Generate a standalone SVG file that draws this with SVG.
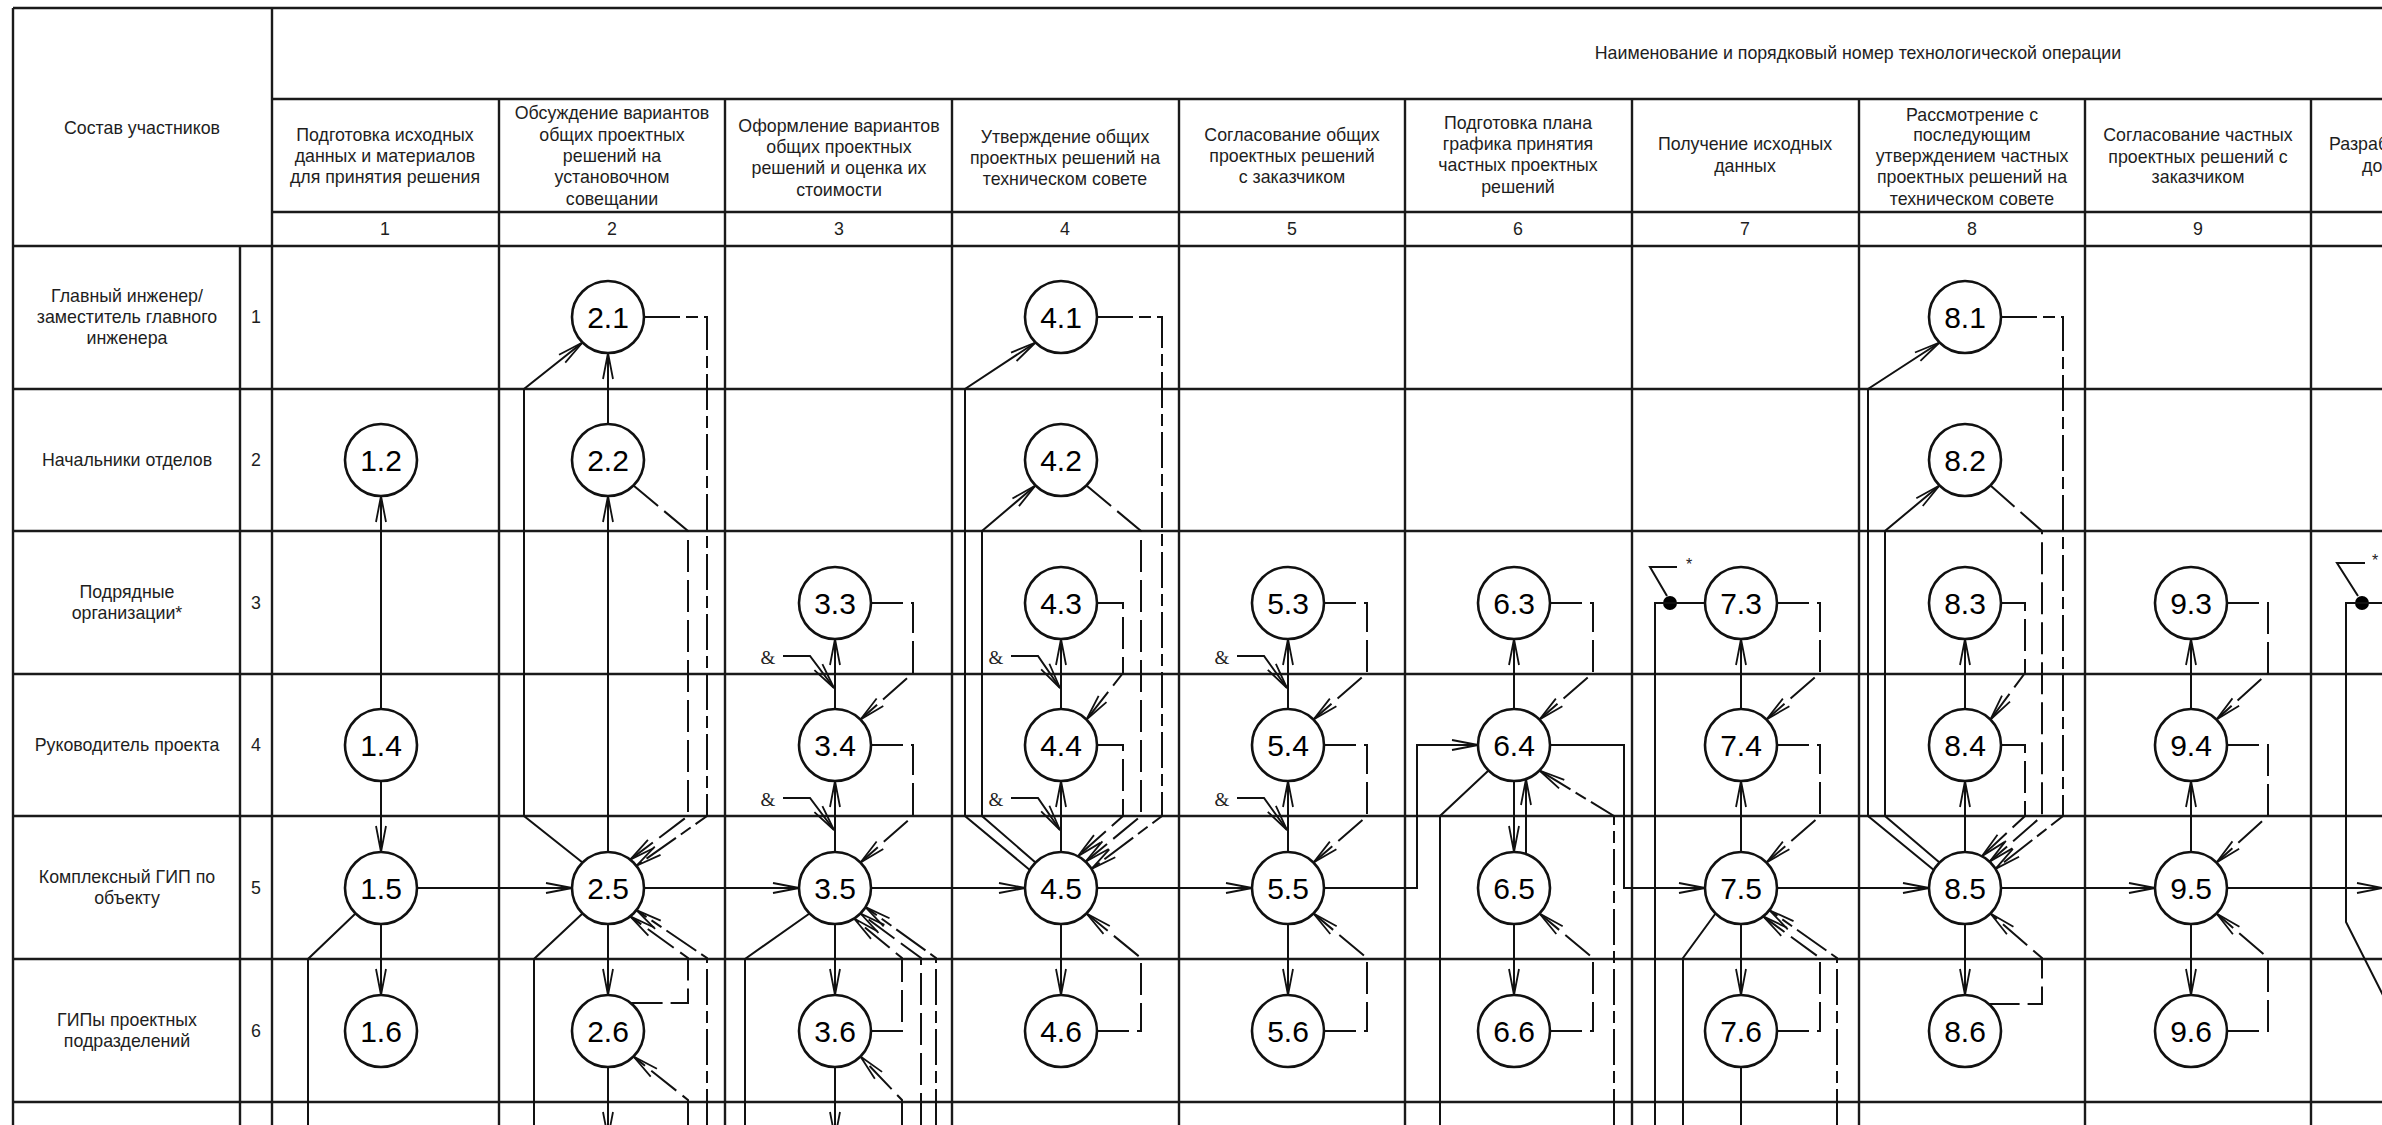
<svg xmlns="http://www.w3.org/2000/svg" width="2382" height="1125" viewBox="0 0 2382 1125">
<style>
.g{stroke:#1a1a1a;stroke-width:2.4;fill:none}
.c{fill:#fff;stroke:#111;stroke-width:2.6}
.l{fill:none;stroke:#111;stroke-width:2}
.d{fill:none;stroke:#111;stroke-width:2;stroke-dasharray:32 8}
.dd{fill:none;stroke:#111;stroke-width:2;stroke-dasharray:36 6 12 6}
.t{font-family:"Liberation Sans",Arial,sans-serif;font-size:17.8px;fill:#1e1e1e;text-anchor:middle}
.n{font-family:"Liberation Sans",Arial,sans-serif;font-size:30px;fill:#000;text-anchor:middle}
.amp{font-family:"Liberation Serif","Times New Roman",serif;font-size:19px;fill:#222;text-anchor:middle}
.ast{font-family:"Liberation Sans",Arial,sans-serif;font-size:16px;fill:#222;text-anchor:middle}
</style>
<defs>
<marker id="ar" markerUnits="userSpaceOnUse" markerWidth="30" markerHeight="14" viewBox="-28 -7 30 14" refX="0" refY="0" orient="auto" overflow="visible">
<path d="M-26,-5 L0,0 L-26,5" fill="none" stroke="#111" stroke-width="1.8" stroke-dasharray="none"/>
</marker>
</defs>
<rect width="2382" height="1125" fill="#fff"/>

<g id="grid">
<path class="g" d="M13,8 H2382 M272,99 H2382 M272,212 H2382 M13,246 H2382 M13,389 H2382 M13,531 H2382 M13,674 H2382 M13,816 H2382 M13,959 H2382 M13,1102 H2382"/>
<path class="g" d="M13,8 V1125 M240,246 V1125 M272,8 V1125 M499,99 V1125 M725,99 V1125 M952,99 V1125 M1179,99 V1125 M1405,99 V1125 M1632,99 V1125 M1859,99 V1125 M2085,99 V1125 M2311,99 V1125"/>
</g>

<g id="header">
<text class="t" x="1858" y="59">Наименование и порядковый номер технологической операции</text>
<text class="t" x="142" y="134">Состав участников</text>
<text class="t" x="385"><tspan x="385" y="141">Подготовка исходных</tspan><tspan x="385" y="162">данных и материалов</tspan><tspan x="385" y="183">для принятия решения</tspan></text>
<text class="t" x="612"><tspan x="612" y="119">Обсуждение вариантов</tspan><tspan x="612" y="141">общих проектных</tspan><tspan x="612" y="162">решений на</tspan><tspan x="612" y="183">установочном</tspan><tspan x="612" y="205">совещании</tspan></text>
<text class="t" x="839"><tspan x="839" y="132">Оформление вариантов</tspan><tspan x="839" y="153">общих проектных</tspan><tspan x="839" y="174">решений и оценка их</tspan><tspan x="839" y="196">стоимости</tspan></text>
<text class="t" x="1065"><tspan x="1065" y="143">Утверждение общих</tspan><tspan x="1065" y="164">проектных решений на</tspan><tspan x="1065" y="185">техническом совете</tspan></text>
<text class="t" x="1292"><tspan x="1292" y="141">Согласование общих</tspan><tspan x="1292" y="162">проектных решений</tspan><tspan x="1292" y="183">с заказчиком</tspan></text>
<text class="t" x="1518"><tspan x="1518" y="129">Подготовка плана</tspan><tspan x="1518" y="150">графика принятия</tspan><tspan x="1518" y="171">частных проектных</tspan><tspan x="1518" y="193">решений</tspan></text>
<text class="t" x="1745"><tspan x="1745" y="150">Получение исходных</tspan><tspan x="1745" y="172">данных</tspan></text>
<text class="t" x="1972"><tspan x="1972" y="121">Рассмотрение с</tspan><tspan x="1972" y="141">последующим</tspan><tspan x="1972" y="162">утверждением частных</tspan><tspan x="1972" y="183">проектных решений на</tspan><tspan x="1972" y="205">техническом совете</tspan></text>
<text class="t" x="2198"><tspan x="2198" y="141">Согласование частных</tspan><tspan x="2198" y="163">проектных решений с</tspan><tspan x="2198" y="183">заказчиком</tspan></text>
<text class="t" style="text-anchor:start"><tspan x="2329" y="150">Разраб</tspan><tspan x="2362" y="172">до</tspan></text>
<text class="t" x="385" y="235">1</text>
<text class="t" x="612" y="235">2</text>
<text class="t" x="839" y="235">3</text>
<text class="t" x="1065" y="235">4</text>
<text class="t" x="1292" y="235">5</text>
<text class="t" x="1518" y="235">6</text>
<text class="t" x="1745" y="235">7</text>
<text class="t" x="1972" y="235">8</text>
<text class="t" x="2198" y="235">9</text>
</g>

<g id="rows">
<text class="t"><tspan x="127" y="302">Главный инженер/</tspan><tspan x="127" y="323">заместитель главного</tspan><tspan x="127" y="344">инженера</tspan></text>
<text class="t" x="127" y="466">Начальники отделов</text>
<text class="t"><tspan x="127" y="598">Подрядные</tspan><tspan x="127" y="619">организации*</tspan></text>
<text class="t" x="127" y="751">Руководитель проекта</text>
<text class="t"><tspan x="127" y="883">Комплексный ГИП по</tspan><tspan x="127" y="904">объекту</tspan></text>
<text class="t"><tspan x="127" y="1026">ГИПы проектных</tspan><tspan x="127" y="1047">подразделений</tspan></text>
<text class="t" x="256" y="323">1</text>
<text class="t" x="256" y="466">2</text>
<text class="t" x="256" y="609">3</text>
<text class="t" x="256" y="751">4</text>
<text class="t" x="256" y="894">5</text>
<text class="t" x="256" y="1037">6</text>
</g>

<g id="connectors">
<!-- col 1 -->
<path class="l" marker-end="url(#ar)" d="M381,709 V496"/>
<path class="l" marker-end="url(#ar)" d="M381,781 V852"/>
<path class="l" marker-end="url(#ar)" d="M381,924 V995"/>
<path class="l" marker-end="url(#ar)" d="M417,888 H572"/>
<path class="l" d="M355.5,913.5 L308,959 V1125"/>
<!-- col 2 -->
<path class="l" marker-end="url(#ar)" d="M608,424 V353"/>
<path class="l" marker-end="url(#ar)" d="M608,852 V496"/>
<path class="l" marker-end="url(#ar)" d="M608,924 V995"/>
<path class="l" marker-end="url(#ar)" d="M608,1067 V1138"/>
<path class="l" marker-end="url(#ar)" d="M582.5,862.5 L524,816 V389 L582.5,342.5"/>
<path class="l" d="M582.5,913.5 L534,959 V1125"/>
<path class="l" marker-end="url(#ar)" d="M644,888 H799"/>
<path class="d" marker-end="url(#ar)" d="M633.5,485.5 L688,531 V816 L630.2,859.6"/>
<path class="dd" marker-end="url(#ar)" d="M644,317 H707 V816 L636.4,865.8"/>
<path class="d" marker-end="url(#ar)" d="M630.6,1003 H688 V958 L630.2,916.4"/>
<path class="dd" marker-end="url(#ar)" d="M707,1125 V958 L636.4,910.2"/>
<path class="d" marker-end="url(#ar)" d="M688,1125 V1100 L633.5,1056.5"/>
<!-- col 3 -->
<path class="l" marker-end="url(#ar)" d="M835,709 V639"/>
<path class="l" marker-end="url(#ar)" d="M835,852 V781"/>
<path class="l" marker-end="url(#ar)" d="M835,924 V995"/>
<path class="l" marker-end="url(#ar)" d="M835,1067 V1138"/>
<path class="l" marker-end="url(#ar)" d="M871,888 H1025"/>
<path class="l" d="M809.5,913.5 L745,959 V1125"/>
<path class="d" marker-end="url(#ar)" d="M871,603 H913 V673 L860.5,719.5"/>
<path class="d" marker-end="url(#ar)" d="M871,745 H913 V816 L860.5,862.5"/>
<path class="d" marker-end="url(#ar)" d="M871,1031 H902 V958 L854.1,918.5"/>
<path class="d" marker-end="url(#ar)" d="M921,1125 V958 L860.5,913.5"/>
<path class="dd" marker-end="url(#ar)" d="M936,1125 V958 L865.5,907.1"/>
<path class="d" marker-end="url(#ar)" d="M902,1125 V1100 L860.5,1056.5"/>
<path class="l" marker-end="url(#ar)" d="M783,656 H810 L834,688"/>
<path class="l" marker-end="url(#ar)" d="M783,798 H810 L834,830"/>
<!-- col 4 -->
<path class="l" marker-end="url(#ar)" d="M1061,709 V639"/>
<path class="l" marker-end="url(#ar)" d="M1061,852 V781"/>
<path class="l" marker-end="url(#ar)" d="M1061,924 V995"/>
<path class="l" marker-end="url(#ar)" d="M1097,888 H1252"/>
<path class="l" marker-end="url(#ar)" d="M1029.8,870 L965,816 V389 L1035.5,342.5"/>
<path class="l" marker-end="url(#ar)" d="M1035.5,862.5 L982,816 V531 L1035.5,485.5"/>
<path class="dd" marker-end="url(#ar)" d="M1097,317 H1162 V816 L1091.5,868.9"/>
<path class="d" marker-end="url(#ar)" d="M1086.5,485.5 L1141,531 V816 L1085.5,861.7"/>
<path class="d" marker-end="url(#ar)" d="M1097,745 H1123 V816 L1077.9,856.2"/>
<path class="d" marker-end="url(#ar)" d="M1097,603 H1123 V673 L1086.5,719.5"/>
<path class="d" marker-end="url(#ar)" d="M1097,1031 H1141 V958 L1086.5,913.5"/>
<path class="l" marker-end="url(#ar)" d="M1011,656 H1038 L1060,688"/>
<path class="l" marker-end="url(#ar)" d="M1011,798 H1038 L1060,830"/>
<!-- col 5 -->
<path class="l" marker-end="url(#ar)" d="M1288,709 V639"/>
<path class="l" marker-end="url(#ar)" d="M1288,852 V781"/>
<path class="l" marker-end="url(#ar)" d="M1288,924 V995"/>
<path class="l" marker-end="url(#ar)" d="M1324,888 H1417 V745 H1478"/>
<path class="d" marker-end="url(#ar)" d="M1324,603 H1367 V673 L1313.5,719.5"/>
<path class="d" marker-end="url(#ar)" d="M1324,745 H1367 V816 L1313.5,862.5"/>
<path class="d" marker-end="url(#ar)" d="M1324,1031 H1367 V958 L1313.5,913.5"/>
<path class="l" marker-end="url(#ar)" d="M1237,656 H1264 L1287,688"/>
<path class="l" marker-end="url(#ar)" d="M1237,798 H1264 L1287,830"/>
<!-- col 6 -->
<path class="l" marker-end="url(#ar)" d="M1514,709 V639"/>
<path class="l" marker-end="url(#ar)" d="M1514,781 V852"/>
<path class="l" marker-end="url(#ar)" d="M1526,854 V779"/>
<path class="l" marker-end="url(#ar)" d="M1514,924 V995"/>
<path class="l" d="M1488.5,770.5 L1440,816 V1125"/>
<path class="l" marker-end="url(#ar)" d="M1550,745 H1624 V888 H1705"/>
<path class="d" marker-end="url(#ar)" d="M1550,603 H1593 V673 L1539.5,719.5"/>
<path class="d" marker-end="url(#ar)" d="M1550,1031 H1593 V958 L1539.5,913.5"/>
<path class="dd" marker-end="url(#ar)" d="M1614,1125 V816 L1539.5,770.5"/>
<!-- col 7 -->
<path class="l" d="M1677,567 H1650 L1667,596"/>
<circle cx="1670" cy="603" r="7" fill="#000"/>
<path class="l" d="M1705,603 H1655 V1125"/>
<path class="l" marker-end="url(#ar)" d="M1741,709 V639"/>
<path class="l" marker-end="url(#ar)" d="M1741,852 V781"/>
<path class="l" marker-end="url(#ar)" d="M1741,924 V995"/>
<path class="l" d="M1741,1067 V1125"/>
<path class="l" d="M1715.5,913.5 L1683,958 V1125"/>
<path class="l" marker-end="url(#ar)" d="M1777,888 H1929"/>
<path class="d" marker-end="url(#ar)" d="M1777,603 H1820 V673 L1766.5,719.5"/>
<path class="d" marker-end="url(#ar)" d="M1777,745 H1820 V816 L1766.5,862.5"/>
<path class="d" marker-end="url(#ar)" d="M1777,1031 H1820 V958 L1763.2,916.4"/>
<path class="dd" marker-end="url(#ar)" d="M1837,1125 V958 L1769.4,910.2"/>
<!-- col 8 -->
<path class="l" marker-end="url(#ar)" d="M1965,709 V639"/>
<path class="l" marker-end="url(#ar)" d="M1965,852 V781"/>
<path class="l" marker-end="url(#ar)" d="M1965,924 V995"/>
<path class="l" marker-end="url(#ar)" d="M1933.8,870 L1868,816 V389 L1939.5,342.5"/>
<path class="l" marker-end="url(#ar)" d="M1939.5,862.5 L1885,816 V531 L1939.5,485.5"/>
<path class="dd" marker-end="url(#ar)" d="M2001,317 H2063 V816 L1995.5,868.9"/>
<path class="d" marker-end="url(#ar)" d="M1990.5,485.5 L2042,531 V816 L1989.5,861.7"/>
<path class="d" marker-end="url(#ar)" d="M2001,745 H2025 V816 L1981.9,856.2"/>
<path class="d" marker-end="url(#ar)" d="M2001,603 H2025 V673 L1990.5,719.5"/>
<path class="d" marker-end="url(#ar)" d="M1987.6,1004 H2042 V958 L1990.5,913.5"/>
<path class="l" marker-end="url(#ar)" d="M2001,888 H2155"/>
<!-- col 9 -->
<path class="l" marker-end="url(#ar)" d="M2191,709 V639"/>
<path class="l" marker-end="url(#ar)" d="M2191,852 V781"/>
<path class="l" marker-end="url(#ar)" d="M2191,924 V995"/>
<path class="d" marker-end="url(#ar)" d="M2227,603 H2268 V673 L2216.5,719.5"/>
<path class="d" marker-end="url(#ar)" d="M2227,745 H2268 V816 L2216.5,862.5"/>
<path class="d" marker-end="url(#ar)" d="M2227,1031 H2268 V958 L2216.5,913.5"/>
<path class="l" marker-end="url(#ar)" d="M2227,888 H2383"/>
<!-- col 10 -->
<path class="l" d="M2365,563 H2337 L2358,596"/>
<circle cx="2362" cy="603" r="7" fill="#000"/>
<path class="l" d="M2395,603 H2346 V922 L2392,1013"/>
</g>

<g id="labels">
<text class="amp" x="768" y="664">&amp;</text>
<text class="amp" x="768" y="806">&amp;</text>
<text class="amp" x="996" y="664">&amp;</text>
<text class="amp" x="996" y="806">&amp;</text>
<text class="amp" x="1222" y="664">&amp;</text>
<text class="amp" x="1222" y="806">&amp;</text>
<text class="ast" x="1689" y="570">*</text>
<text class="ast" x="2375" y="566">*</text>
</g>

<g id="n1_2"><circle class="c" cx="381" cy="460" r="36"/><text class="n" x="381" y="471">1.2</text></g>
<g id="n1_4"><circle class="c" cx="381" cy="745" r="36"/><text class="n" x="381" y="756">1.4</text></g>
<g id="n1_5"><circle class="c" cx="381" cy="888" r="36"/><text class="n" x="381" y="899">1.5</text></g>
<g id="n1_6"><circle class="c" cx="381" cy="1031" r="36"/><text class="n" x="381" y="1042">1.6</text></g>

<g id="n2_1"><circle class="c" cx="608" cy="317" r="36"/><text class="n" x="608" y="328">2.1</text></g>
<g id="n2_2"><circle class="c" cx="608" cy="460" r="36"/><text class="n" x="608" y="471">2.2</text></g>
<g id="n2_5"><circle class="c" cx="608" cy="888" r="36"/><text class="n" x="608" y="899">2.5</text></g>
<g id="n2_6"><circle class="c" cx="608" cy="1031" r="36"/><text class="n" x="608" y="1042">2.6</text></g>

<g id="n3_3"><circle class="c" cx="835" cy="603" r="36"/><text class="n" x="835" y="614">3.3</text></g>
<g id="n3_4"><circle class="c" cx="835" cy="745" r="36"/><text class="n" x="835" y="756">3.4</text></g>
<g id="n3_5"><circle class="c" cx="835" cy="888" r="36"/><text class="n" x="835" y="899">3.5</text></g>
<g id="n3_6"><circle class="c" cx="835" cy="1031" r="36"/><text class="n" x="835" y="1042">3.6</text></g>

<g id="n4_1"><circle class="c" cx="1061" cy="317" r="36"/><text class="n" x="1061" y="328">4.1</text></g>
<g id="n4_2"><circle class="c" cx="1061" cy="460" r="36"/><text class="n" x="1061" y="471">4.2</text></g>
<g id="n4_3"><circle class="c" cx="1061" cy="603" r="36"/><text class="n" x="1061" y="614">4.3</text></g>
<g id="n4_4"><circle class="c" cx="1061" cy="745" r="36"/><text class="n" x="1061" y="756">4.4</text></g>
<g id="n4_5"><circle class="c" cx="1061" cy="888" r="36"/><text class="n" x="1061" y="899">4.5</text></g>
<g id="n4_6"><circle class="c" cx="1061" cy="1031" r="36"/><text class="n" x="1061" y="1042">4.6</text></g>

<g id="n5_3"><circle class="c" cx="1288" cy="603" r="36"/><text class="n" x="1288" y="614">5.3</text></g>
<g id="n5_4"><circle class="c" cx="1288" cy="745" r="36"/><text class="n" x="1288" y="756">5.4</text></g>
<g id="n5_5"><circle class="c" cx="1288" cy="888" r="36"/><text class="n" x="1288" y="899">5.5</text></g>
<g id="n5_6"><circle class="c" cx="1288" cy="1031" r="36"/><text class="n" x="1288" y="1042">5.6</text></g>

<g id="n6_3"><circle class="c" cx="1514" cy="603" r="36"/><text class="n" x="1514" y="614">6.3</text></g>
<g id="n6_4"><circle class="c" cx="1514" cy="745" r="36"/><text class="n" x="1514" y="756">6.4</text></g>
<g id="n6_5"><circle class="c" cx="1514" cy="888" r="36"/><text class="n" x="1514" y="899">6.5</text></g>
<g id="n6_6"><circle class="c" cx="1514" cy="1031" r="36"/><text class="n" x="1514" y="1042">6.6</text></g>

<g id="n7_3"><circle class="c" cx="1741" cy="603" r="36"/><text class="n" x="1741" y="614">7.3</text></g>
<g id="n7_4"><circle class="c" cx="1741" cy="745" r="36"/><text class="n" x="1741" y="756">7.4</text></g>
<g id="n7_5"><circle class="c" cx="1741" cy="888" r="36"/><text class="n" x="1741" y="899">7.5</text></g>
<g id="n7_6"><circle class="c" cx="1741" cy="1031" r="36"/><text class="n" x="1741" y="1042">7.6</text></g>

<g id="n8_1"><circle class="c" cx="1965" cy="317" r="36"/><text class="n" x="1965" y="328">8.1</text></g>
<g id="n8_2"><circle class="c" cx="1965" cy="460" r="36"/><text class="n" x="1965" y="471">8.2</text></g>
<g id="n8_3"><circle class="c" cx="1965" cy="603" r="36"/><text class="n" x="1965" y="614">8.3</text></g>
<g id="n8_4"><circle class="c" cx="1965" cy="745" r="36"/><text class="n" x="1965" y="756">8.4</text></g>
<g id="n8_5"><circle class="c" cx="1965" cy="888" r="36"/><text class="n" x="1965" y="899">8.5</text></g>
<g id="n8_6"><circle class="c" cx="1965" cy="1031" r="36"/><text class="n" x="1965" y="1042">8.6</text></g>

<g id="n9_3"><circle class="c" cx="2191" cy="603" r="36"/><text class="n" x="2191" y="614">9.3</text></g>
<g id="n9_4"><circle class="c" cx="2191" cy="745" r="36"/><text class="n" x="2191" y="756">9.4</text></g>
<g id="n9_5"><circle class="c" cx="2191" cy="888" r="36"/><text class="n" x="2191" y="899">9.5</text></g>
<g id="n9_6"><circle class="c" cx="2191" cy="1031" r="36"/><text class="n" x="2191" y="1042">9.6</text></g>
</svg>
